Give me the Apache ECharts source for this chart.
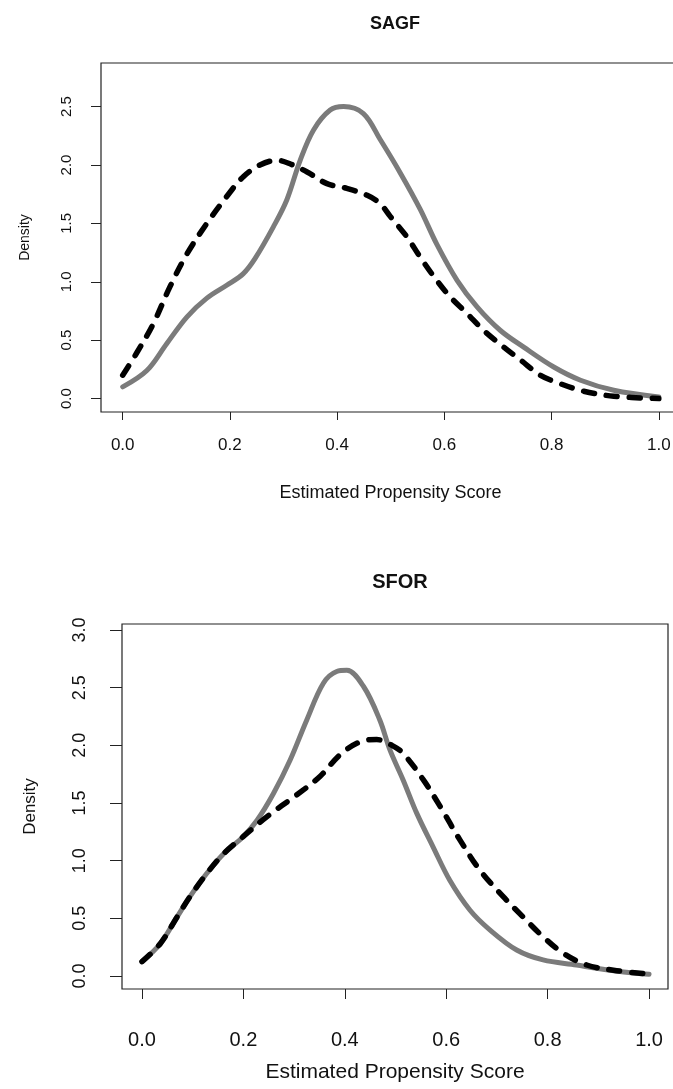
<!DOCTYPE html>
<html><head><meta charset="utf-8">
<script src="https://cdn.jsdelivr.net/npm/echarts@6/dist/echarts.min.js"></script>
<style>html,body{margin:0;padding:0;background:#fff}#c{width:673px;height:1089px}</style>
</head><body><div id="c"></div>
<script>
// ---- data ----
const titles = ['SAGF', 'SFOR'];
const xTicks = [0, 0.2, 0.4, 0.6, 0.8, 1.0];
const yTicksTop = [0, 0.5, 1.0, 1.5, 2.0, 2.5];
const yTicksBottom = [0, 0.5, 1.0, 1.5, 2.0, 2.5, 3.0];
const xLabel = 'Estimated Propensity Score';
const yLabel = 'Density';

// SAGF: gray solid curve [score, density]
const sagfSolid = [[0,0.10],[0.045,0.24],[0.082,0.47],[0.12,0.70],[0.157,0.86],[0.194,0.97],[0.225,1.07],[0.247,1.20],[0.281,1.47],[0.306,1.70],[0.331,2.04],[0.356,2.30],[0.387,2.47],[0.412,2.50],[0.449,2.44],[0.48,2.22],[0.518,1.93],[0.555,1.62],[0.586,1.32],[0.624,1.01],[0.661,0.785],[0.704,0.585],[0.748,0.44],[0.804,0.27],[0.854,0.157],[0.916,0.071],[1.0,0.014]];
// SAGF: black dashed curve
const sagfDashed = [[0,0.20],[0.026,0.39],[0.057,0.64],[0.088,0.956],[0.12,1.24],[0.157,1.50],[0.194,1.73],[0.225,1.90],[0.256,2.00],[0.288,2.04],[0.312,2.01],[0.344,1.94],[0.381,1.84],[0.418,1.80],[0.456,1.74],[0.48,1.67],[0.499,1.56],[0.53,1.385],[0.555,1.21],[0.586,1.01],[0.611,0.87],[0.642,0.73],[0.673,0.585],[0.711,0.44],[0.742,0.33],[0.779,0.20],[0.816,0.128],[0.86,0.063],[0.916,0.02],[1.0,0.0]];
// SFOR: gray solid curve
const sforSolid = [[0,0.124],[0.036,0.28],[0.069,0.51],[0.095,0.69],[0.128,0.89],[0.161,1.06],[0.2,1.21],[0.227,1.35],[0.259,1.58],[0.292,1.87],[0.325,2.22],[0.358,2.54],[0.384,2.64],[0.404,2.65],[0.437,2.51],[0.469,2.22],[0.489,1.96],[0.515,1.70],[0.542,1.41],[0.574,1.12],[0.607,0.83],[0.647,0.57],[0.686,0.40],[0.739,0.225],[0.791,0.139],[0.857,0.095],[0.896,0.067],[0.95,0.035],[1.0,0.015]];
// SFOR: black dashed curve
const sforDashed = [[0,0.124],[0.036,0.28],[0.069,0.51],[0.095,0.69],[0.128,0.89],[0.161,1.06],[0.2,1.21],[0.246,1.38],[0.305,1.57],[0.351,1.73],[0.391,1.92],[0.43,2.03],[0.463,2.05],[0.493,2.00],[0.515,1.93],[0.555,1.70],[0.588,1.47],[0.627,1.18],[0.666,0.92],[0.712,0.69],[0.752,0.51],[0.791,0.34],[0.831,0.197],[0.877,0.095],[0.936,0.046],[1.0,0.017]];

// ---- chart ----
const FONT = '"Liberation Sans", Arial, sans-serif';
const fmt = v => Number(v).toFixed(1);

function xAxis(gi, ticks, min, max, fs, nfs, tickLen, margin, nameGap) {
  return {
    type: 'value', gridIndex: gi, min: min, max: max,
    name: xLabel, nameLocation: 'middle', nameGap: nameGap, nameMoveOverlap: false,
    nameTextStyle: { fontFamily: FONT, fontSize: nfs, color: '#111', verticalAlign: 'top' },
    axisLine: { show: false, onZero: false },
    splitLine: { show: false },
    axisTick: { show: true, inside: false, length: tickLen, customValues: ticks, lineStyle: { color: '#222', width: 1 } },
    axisLabel: { customValues: ticks, formatter: fmt, fontFamily: FONT, fontSize: fs, color: '#111', margin: margin }
  };
}
function yAxis(gi, ticks, min, max, fs, nfs, tickLen, margin, nameGap) {
  return {
    type: 'value', gridIndex: gi, min: min, max: max,
    name: yLabel, nameLocation: 'middle', nameGap: nameGap, nameRotate: 90, nameMoveOverlap: false,
    nameTextStyle: { fontFamily: FONT, fontSize: nfs, color: '#111' },
    axisLine: { show: false, onZero: false },
    splitLine: { show: false },
    axisTick: { show: true, inside: false, length: tickLen, customValues: ticks, lineStyle: { color: '#222', width: 1 } },
    axisLabel: { customValues: ticks, formatter: fmt, rotate: 90, fontFamily: FONT, fontSize: fs, color: '#111', margin: margin }
  };
}
function solid(data, gi) {
  return { type: 'line', xAxisIndex: gi, yAxisIndex: gi, data: data, smooth: 0.35, symbol: 'none',
    lineStyle: { color: '#7b7b7b', width: 5, cap: 'round', join: 'round' }, z: 2 };
}
function dashed(data, gi) {
  return { type: 'line', xAxisIndex: gi, yAxisIndex: gi, data: data, smooth: 0.35, symbol: 'none',
    lineStyle: { color: '#000', width: 5.5, type: [11, 12], cap: 'round', join: 'round' }, z: 3 };
}

const chart = echarts.init(document.getElementById('c'), null, { renderer: 'canvas' });
chart.setOption({
  backgroundColor: '#fff',
  animation: false,
  title: [
    { text: titles[0], left: 390, top: 10, textAlign: 'center', textStyle: { fontFamily: FONT, fontSize: 18, fontWeight: 'bold', color: '#111' } },
    { text: titles[1], left: 395, top: 567, textAlign: 'center', textStyle: { fontFamily: FONT, fontSize: 20, fontWeight: 'bold', color: '#111' } }
  ],
  grid: [
    { left: 101, top: 63, width: 579, height: 349, show: true, borderColor: '#222', borderWidth: 1.2, backgroundColor: 'transparent', containLabel: false, outerBoundsMode: 'none' },
    { left: 122, top: 624, width: 546, height: 365, show: true, borderColor: '#222', borderWidth: 1.2, backgroundColor: 'transparent', containLabel: false, outerBoundsMode: 'none' }
  ],
  xAxis: [
    xAxis(0, xTicks, -0.0405, 1.0395, 17, 18, 8, 25, 72),
    xAxis(1, xTicks, -0.0394, 1.0374, 20, 21, 10, 41, 73)
  ],
  yAxis: [
    yAxis(0, yTicksTop, -0.115, 2.873, 15, 14, 10, 27, 69),
    yAxis(1, yTicksBottom, -0.113, 3.052, 18, 17, 12, 33, 83)
  ],
  series: [
    solid(sagfSolid, 0), dashed(sagfDashed, 0),
    solid(sforSolid, 1), dashed(sforDashed, 1)
  ]
});
</script>
</body></html>
